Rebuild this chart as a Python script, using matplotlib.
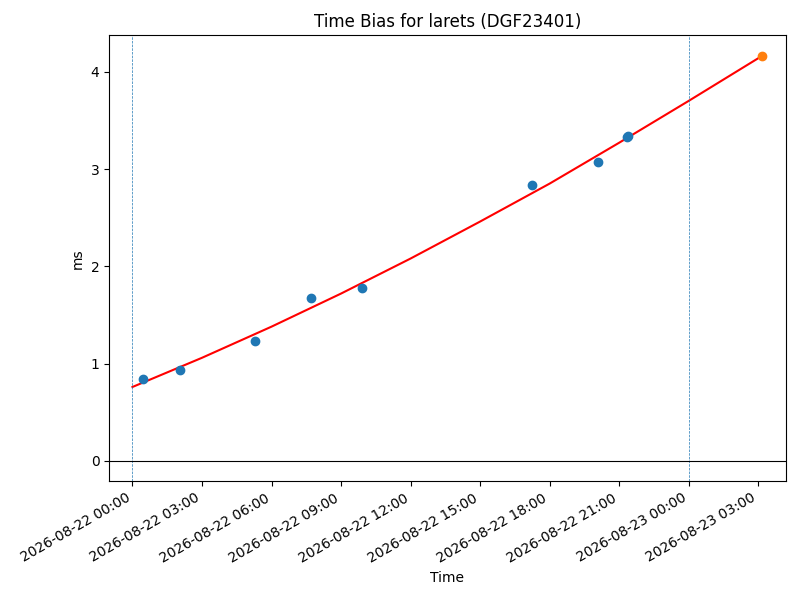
from datetime import datetime
import matplotlib
matplotlib.use("Agg")
import matplotlib.pyplot as plt
import matplotlib.dates as mdates

# measured time bias (ms)
obs_times = ["2026-08-22 00:28", "2026-08-22 02:02", "2026-08-22 05:16",
             "2026-08-22 07:41", "2026-08-22 09:55", "2026-08-22 17:15",
             "2026-08-22 20:06", "2026-08-22 21:21", "2026-08-22 21:23"]
obs_ms = [0.843, 0.938, 1.228, 1.675, 1.778, 2.840, 3.073, 3.325, 3.335]

# predicted point
pred_time = "2026-08-23 03:11"
pred_ms = 4.165

# fitted curve
fit_times = ["2026-08-22 00:00", "2026-08-22 03:00", "2026-08-22 06:00",
             "2026-08-22 09:00", "2026-08-22 12:00", "2026-08-22 15:00",
             "2026-08-22 18:00", "2026-08-22 21:00", "2026-08-23 00:00",
             "2026-08-23 03:11"]
fit_ms = [0.76, 1.06, 1.38, 1.72, 2.08, 2.46, 2.85, 3.27, 3.70, 4.165]

day_marks = ["2026-08-22 00:00", "2026-08-23 00:00"]

fmt = "%Y-%m-%d %H:%M"
def to_dt(values):
    return [datetime.strptime(v, fmt) for v in values]

fig, ax = plt.subplots(figsize=(8, 6), dpi=100)

ax.plot(to_dt(fit_times), fit_ms, color="red")
ax.plot(to_dt(obs_times), obs_ms, "o", color="#1f77b4")
ax.plot(to_dt([pred_time]), [pred_ms], "o", color="#ff7f0e")

for d in to_dt(day_marks):
    ax.axvline(d, color="#1f77b4", linestyle="--", linewidth=0.5)
ax.axhline(0, color="black", linewidth=0.8)

ax.set_xlim(datetime(2026, 8, 21, 23, 0), datetime(2026, 8, 23, 4, 11))
ax.xaxis.set_major_locator(mdates.HourLocator(byhour=range(0, 24, 3)))
ax.xaxis.set_major_formatter(mdates.DateFormatter(fmt))
fig.autofmt_xdate()

ax.set_title("Time Bias for larets (DGF23401)")
ax.set_xlabel("Time")
ax.set_ylabel("ms")

fig.subplots_adjust(left=0.1366, right=0.982, top=0.941, bottom=0.198)
fig.savefig("out.png")
